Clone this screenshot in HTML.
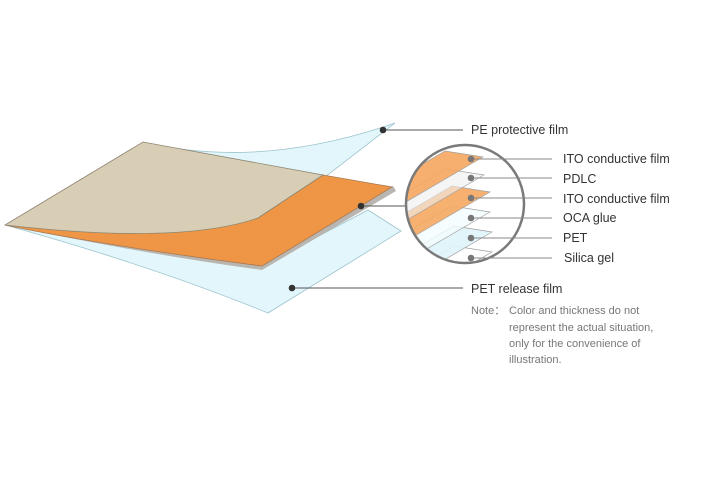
<!DOCTYPE html>
<html><head><style>
html,body{margin:0;padding:0;background:#fff;}
svg{display:block}
text{font-family:"Liberation Sans","DejaVu Sans",sans-serif;}
</style></head><body>
<svg width="719" height="500" viewBox="0 0 719 500" xmlns="http://www.w3.org/2000/svg">
<defs><clipPath id="c"><circle cx="465" cy="204" r="59"/></clipPath></defs>
<!-- release film -->
<path d="M5,225 Q150,265 268,313 L401,231 L368,210 L262,266 Z" fill="#e2f6fc" stroke="#9cc3cc" stroke-width="0.8"/>
<!-- PE film -->
<path d="M143,142 Q260,170 395,123 L325,177 L143,150 Z" fill="#e2f6fc" stroke="#9cc3cc" stroke-width="0.8"/>
<!-- gray thickness -->
<path d="M5,225 Q150,255 262,270 L396,191 L393,186 L262,266 Z" fill="#b9b6b1"/>
<!-- orange -->
<path d="M5,225 Q100,245 262,266 L392,187 L323,175 L258,218 Q180,240 5,225 Z" fill="#ee9646" stroke="#a9784f" stroke-width="0.8"/>
<!-- beige -->
<path d="M5,225 L143,142 Q240,160 323,175 L258,218 Q180,245 5,225 Z" fill="#d8ceb6" stroke="#8e8672" stroke-width="0.8"/>
<!-- circle content -->
<g clip-path="url(#c)" stroke="#a0a0a0" stroke-width="0.7">
<rect x="400" y="140" width="130" height="130" fill="#fff" stroke="none"/>
<path d="M492,252 L454,246 L334,316 L372,322 Z" fill="#ffffff"/>
<path d="M492,232 L454,226 L334,296 L372,302 Z" fill="#dff4fb" fill-opacity="0.9"/>
<path d="M490,212 L452,206 L332,276 L370,282 Z" fill="#f4fcff" fill-opacity="0.8"/>
<path d="M490,192 L452,186 L332,256 L370,262 Z" fill="#f5a862" fill-opacity="0.9"/>
<path d="M484,175 L446,169 L326,239 L364,245 Z" fill="#f0eeee" fill-opacity="0.6"/>
<path d="M483,157 L445,151 L325,221 L363,227 Z" fill="#f5a862" fill-opacity="0.92"/>
</g>
<circle cx="465" cy="204" r="59" fill="none" stroke="#7a7a7a" stroke-width="2.5"/>
<!-- leader lines -->
<g stroke="#555" stroke-width="1">
<line x1="383" y1="130" x2="463" y2="130"/>
<line x1="361" y1="206" x2="405" y2="206"/>
<line x1="292" y1="288" x2="463" y2="288"/>
</g>
<g fill="#333"><circle cx="383" cy="130" r="3.3"/><circle cx="361" cy="206" r="3.3"/><circle cx="292" cy="288" r="3.3"/></g>
<g stroke="#888" stroke-width="1">
<line x1="471" y1="159" x2="552" y2="159"/>
<line x1="471" y1="178" x2="552" y2="178"/>
<line x1="471" y1="198" x2="552" y2="198"/>
<line x1="471" y1="218" x2="552" y2="218"/>
<line x1="471" y1="238" x2="552" y2="238"/>
<line x1="471" y1="258" x2="552" y2="258"/>
</g>
<g fill="#777"><circle cx="471" cy="159" r="3.3"/><circle cx="471" cy="178" r="3.3"/><circle cx="471" cy="198" r="3.3"/><circle cx="471" cy="218" r="3.3"/><circle cx="471" cy="238" r="3.3"/><circle cx="471" cy="258" r="3.3"/></g>
<g font-size="12.5" fill="#333">
<text x="471" y="134">PE protective film</text>
<text x="563" y="163">ITO conductive film</text>
<text x="563" y="183">PDLC</text>
<text x="563" y="203">ITO conductive film</text>
<text x="563" y="222">OCA glue</text>
<text x="563" y="242">PET</text>
<text x="564" y="262">Silica gel</text>
<text x="471" y="293">PET release film</text>
</g>
<g font-size="11" fill="#777">
<text x="471" y="314">Note：</text>
<text x="509" y="314">Color and thickness do not</text>
<text x="509" y="331">represent the actual situation,</text>
<text x="509" y="347">only for the convenience of</text>
<text x="509" y="363">illustration.</text>
</g>
</svg>
</body></html>
